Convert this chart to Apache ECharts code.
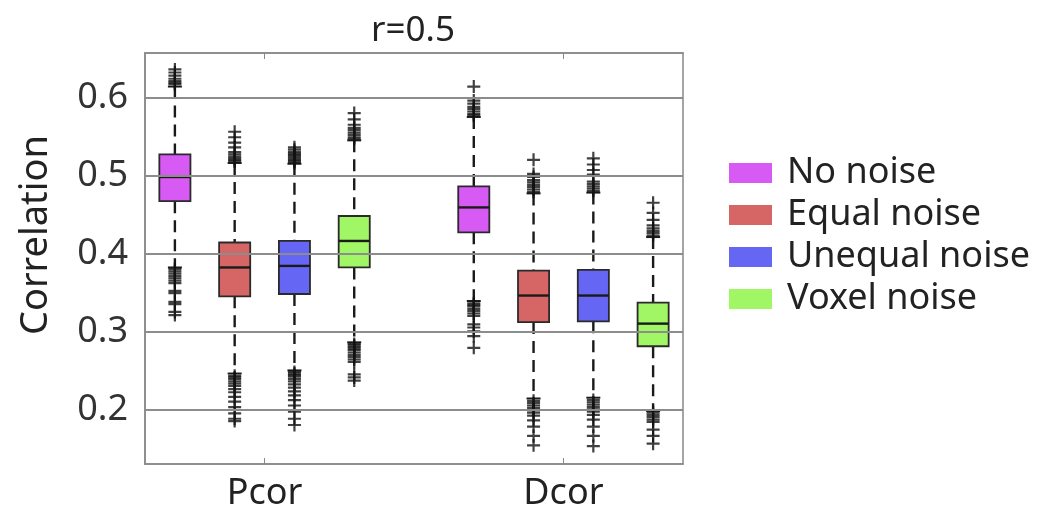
<!DOCTYPE html>
<html>
<head>
<meta charset="utf-8">
<script src="https://cdn.jsdelivr.net/npm/echarts@6/dist/echarts.min.js"></script>
<style>html,body{margin:0;padding:0;background:#fff}#c{width:1040px;height:512px}</style>
</head>
<body>
<div id="c"></div>
<script>
// ---- data ----
const groups = ['Pcor', 'Dcor'];
const conditions = ['No noise', 'Equal noise', 'Unequal noise', 'Voxel noise'];
const colors = ['#d65af3', '#d66666', '#6666f5', '#a0f664'];
const yTicks = [0.2, 0.3, 0.4, 0.5, 0.6];
const titleText = 'r=0.5';
const yName = 'Correlation';

// box stats per group: [lower whisker, Q1, median, Q3, upper whisker]
const noNoiseStats      = [[0.382, 0.467, 0.498, 0.527, 0.614], [0.339, 0.427, 0.459, 0.486, 0.575]];
const equalNoiseStats   = [[0.246, 0.345, 0.382, 0.414, 0.516], [0.214, 0.312, 0.346, 0.378, 0.477]];
const unequalNoiseStats = [[0.250, 0.348, 0.384, 0.416, 0.515], [0.215, 0.313, 0.346, 0.379, 0.478]];
const voxelNoiseStats   = [[0.286, 0.382, 0.416, 0.448, 0.545], [0.198, 0.281, 0.310, 0.337, 0.421]];

// outliers per group
const noNoiseOutliers = [
  [0.636, 0.632, 0.628, 0.624, 0.621, 0.619, 0.617, 0.380, 0.377, 0.374, 0.371, 0.368, 0.365, 0.362, 0.352, 0.349, 0.338, 0.335, 0.325, 0.321],
  [0.614, 0.596, 0.592, 0.588, 0.585, 0.582, 0.579, 0.577, 0.336, 0.334, 0.332, 0.329, 0.326, 0.323, 0.320, 0.309, 0.305, 0.300, 0.294, 0.279]
];
const equalNoiseOutliers = [
  [0.556, 0.549, 0.542, 0.536, 0.530, 0.527, 0.524, 0.522, 0.520, 0.518, 0.243, 0.241, 0.239, 0.236, 0.233, 0.230, 0.226, 0.222, 0.216, 0.210, 0.203, 0.195, 0.188, 0.185],
  [0.520, 0.502, 0.498, 0.494, 0.491, 0.488, 0.485, 0.482, 0.479, 0.211, 0.208, 0.205, 0.202, 0.199, 0.196, 0.192, 0.186, 0.178, 0.166, 0.154]
];
const unequalNoiseOutliers = [
  [0.536, 0.533, 0.530, 0.528, 0.526, 0.524, 0.522, 0.520, 0.518, 0.516, 0.248, 0.246, 0.244, 0.242, 0.239, 0.236, 0.232, 0.228, 0.223, 0.218, 0.212, 0.205, 0.197, 0.188, 0.180],
  [0.522, 0.514, 0.507, 0.501, 0.492, 0.489, 0.486, 0.483, 0.480, 0.212, 0.209, 0.206, 0.203, 0.200, 0.197, 0.193, 0.187, 0.178, 0.166, 0.153]
];
const voxelNoiseOutliers = [
  [0.580, 0.572, 0.565, 0.561, 0.558, 0.555, 0.552, 0.549, 0.547, 0.284, 0.282, 0.280, 0.278, 0.276, 0.273, 0.270, 0.267, 0.264, 0.261, 0.245, 0.241, 0.237],
  [0.465, 0.452, 0.443, 0.436, 0.432, 0.429, 0.426, 0.423, 0.196, 0.193, 0.190, 0.187, 0.184, 0.174, 0.166, 0.156]
];

const allStats = [noNoiseStats, equalNoiseStats, unequalNoiseStats, voxelNoiseStats];
const allOutliers = [noNoiseOutliers, equalNoiseOutliers, unequalNoiseOutliers, voxelNoiseOutliers];

// ---- layout helpers ----
const slotsPerGroup = conditions.length + 1;
const posOf = (g, c) => g * slotsPerGroup + c + 1;
const groupCenter = g => g * slotsPerGroup + (conditions.length + 1) / 2;
const FONT = '"Noto Sans", "Open Sans", sans-serif';

function renderBox(params, api) {
  const x = api.value(0);
  const lo = api.coord([x, api.value(1)]);
  const q1 = api.coord([x, api.value(2)]);
  const md = api.coord([x, api.value(3)]);
  const q3 = api.coord([x, api.value(4)]);
  const hi = api.coord([x, api.value(5)]);
  const w = api.size([0.52, 0])[0];
  const cap = w * 0.45;
  const color = api.visual('color');
  const wStyle = { stroke: '#1a1a1a', lineWidth: 2.4, lineDash: [12, 7] };
  const cStyle = { stroke: '#1a1a1a', lineWidth: 2 };
  return {
    type: 'group',
    children: [
      { type: 'line', shape: { x1: hi[0], y1: hi[1], x2: q3[0], y2: q3[1] }, style: wStyle },
      { type: 'line', shape: { x1: q1[0], y1: q1[1], x2: lo[0], y2: lo[1] }, style: wStyle },
      { type: 'line', shape: { x1: hi[0] - cap / 2, y1: hi[1], x2: hi[0] + cap / 2, y2: hi[1] }, style: cStyle },
      { type: 'line', shape: { x1: lo[0] - cap / 2, y1: lo[1], x2: lo[0] + cap / 2, y2: lo[1] }, style: cStyle },
      { type: 'rect', shape: { x: q3[0] - w / 2, y: q3[1], width: w, height: q1[1] - q3[1] },
        style: { fill: color, stroke: '#2a2a2a', lineWidth: 1.8 } },
      { type: 'line', shape: { x1: md[0] - w / 2, y1: md[1], x2: md[0] + w / 2, y2: md[1] },
        style: { stroke: '#1a1a1a', lineWidth: 2.4 } }
    ]
  };
}

const series = [];
conditions.forEach((name, ci) => {
  series.push({
    name: name,
    type: 'custom',
    z: 2,
    itemStyle: { color: colors[ci] },
    renderItem: renderBox,
    encode: { x: 0, y: [1, 2, 3, 4, 5] },
    data: groups.map((g, gi) => [posOf(gi, ci)].concat(allStats[ci][gi]))
  });
});
// grid lines drawn above boxes
series.push({
  name: 'grid',
  type: 'line',
  z: 3,
  data: [],
  silent: true,
  markLine: {
    silent: true,
    symbol: 'none',
    label: { show: false },
    lineStyle: { color: '#8c8c8c', width: 2, type: 'solid' },
    data: yTicks.map(v => ({ yAxis: v }))
  }
});
conditions.forEach((name, ci) => {
  const pts = [];
  groups.forEach((g, gi) => allOutliers[ci][gi].forEach(v => pts.push([posOf(gi, ci), v])));
  series.push({
    name: name + ' outliers',
    type: 'scatter',
    z: 4,
    symbol: 'path://M0,5L10,5M5,0L5,10',
    symbolSize: 13,
    itemStyle: { color: 'rgba(0,0,0,0)', borderColor: '#111', borderWidth: 2.2 },
    data: pts
  });
});

const xTickVals = groups.map((g, gi) => groupCenter(gi));

const chart = echarts.init(document.getElementById('c'), null, { renderer: 'canvas' });
chart.setOption({
  animation: false,
  backgroundColor: '#fff',
  grid: { left: 145, right: 357, top: 53, bottom: 47, show: true, borderColor: '#888', borderWidth: 1.5, backgroundColor: 'transparent' },
  graphic: [
    { type: 'text', x: 413, y: 31, style: { text: titleText, fontSize: 35, fontFamily: FONT, fill: '#222', align: 'center', verticalAlign: 'middle' } },
    { type: 'text', x: 36, y: 235, rotation: Math.PI / 2, style: { text: yName, fontSize: 38, fontFamily: FONT, fill: '#222', align: 'center', verticalAlign: 'middle' } }
  ],
  legend: {
    data: conditions,
    orient: 'vertical',
    left: 724,
    top: 150,
    icon: 'rect',
    itemWidth: 43,
    itemHeight: 20,
    itemGap: 6,
    itemStyle: { borderWidth: 0 },
    textStyle: { fontSize: 36, lineHeight: 36, fontFamily: FONT, color: '#222', padding: [0, 0, 0, 10] }
  },
  xAxis: [{
    type: 'value',
    min: 0.5,
    max: groups.length * slotsPerGroup - 0.5,
    position: 'bottom',
    axisLine: { show: true, lineStyle: { color: '#888', width: 1.5 } },
    axisTick: { show: true, inside: true, length: 6, customValues: xTickVals, lineStyle: { color: '#888' } },
    axisLabel: { customValues: xTickVals, formatter: v => groups[xTickVals.indexOf(v)] || '', fontSize: 36, fontFamily: FONT, color: '#222', margin: 12 },
    splitLine: { show: false }
  }, {
    type: 'value',
    min: 0.5,
    max: groups.length * slotsPerGroup - 0.5,
    position: 'top',
    axisLine: { show: true, lineStyle: { color: '#888', width: 1.5 } },
    axisTick: { show: true, inside: true, length: 6, customValues: xTickVals, lineStyle: { color: '#888' } },
    axisLabel: { show: false },
    splitLine: { show: false }
  }],
  yAxis: [{
    type: 'value',
    min: 0.13,
    max: 0.657,
    axisLine: { show: true, lineStyle: { color: '#888', width: 1.5 } },
    axisTick: { show: true, inside: true, length: 6, customValues: yTicks, lineStyle: { color: '#888' } },
    axisLabel: { customValues: yTicks, formatter: v => v.toFixed(1), fontSize: 36, fontFamily: FONT, color: '#333', margin: 17 },
    splitLine: { show: false }
  }],
  series: series
});
</script>
</body>
</html>
